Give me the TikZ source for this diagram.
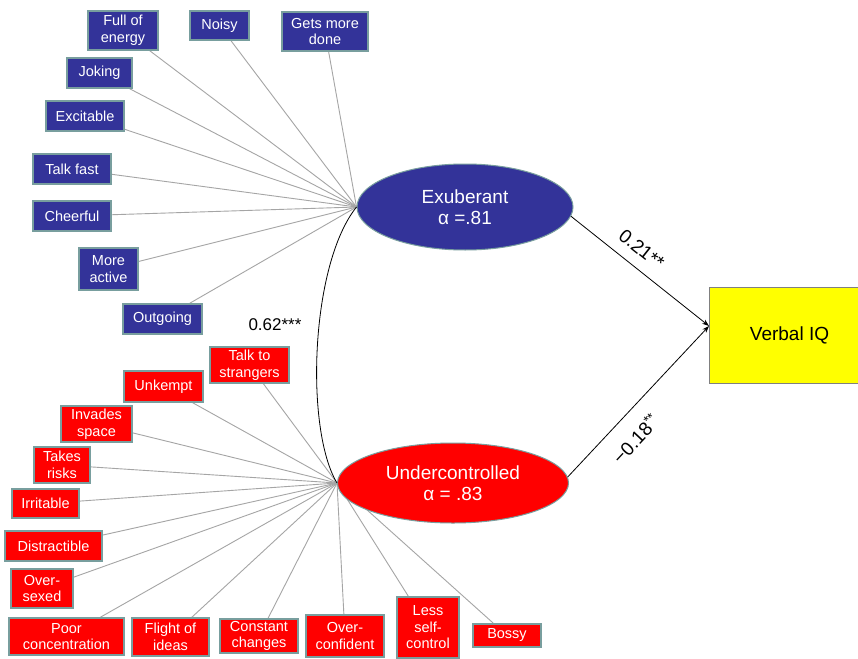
\documentclass[tikz,border=0pt]{standalone}
\usepackage{fontspec}
\setmainfont{Liberation Sans}
\usetikzlibrary{shapes.geometric,arrows.meta,backgrounds}
\definecolor{exblue}{RGB}{51,51,153}
\definecolor{ucred}{RGB}{255,0,0}
\definecolor{boxline}{RGB}{120,158,158}
\definecolor{spoke}{RGB}{165,165,165}
\definecolor{viqyellow}{RGB}{255,255,0}
\begin{document}
\begin{tikzpicture}[x=1pt,y=-1pt,
  trait/.style={draw=boxline, line width=1.4pt, text=white, align=center, inner sep=0pt,
    font=\fontsize{14.5}{16.5}\selectfont},
  bluetrait/.style={trait, fill=exblue},
  redtrait/.style={trait, fill=ucred},
  factor/.style={ellipse, draw=boxline, line width=1pt, text=white, align=center, inner sep=0pt,
    font=\fontsize{19}{21}\selectfont},
  spokeline/.style={draw=spoke, line width=0.9pt},
  pathline/.style={draw=black, line width=0.8pt},
  pathlabel/.style={font=\fontsize{19}{21}\selectfont, inner sep=2pt}
]
\useasboundingbox (0,0) rectangle (858,658);

% factors
\node[factor, fill=exblue, minimum width=216, minimum height=86] (ex) at (465,207) {Exuberant\\α =.81};
\node[factor, fill=ucred, minimum width=231, minimum height=80] (uc) at (453,483) {Undercontrolled\\α = .83};

% outcome
\node[draw=gray, line width=0.8pt, fill=viqyellow, minimum width=161, minimum height=96, inner sep=0pt,
  font=\fontsize{19}{21}\selectfont] (viq) at (789.5,335) {Verbal IQ};
\coordinate (viqin) at (709,326);

% blue traits
\node[bluetrait, minimum width=70, minimum height=39] (fe) at (123,30.5) {Full of\\energy};
\node[bluetrait, minimum width=59, minimum height=29] (noisy) at (219.5,25.5) {Noisy};
\node[bluetrait, minimum width=86, minimum height=39] (gmd) at (325,31.5) {Gets more\\done};
\node[bluetrait, minimum width=65, minimum height=30] (joking) at (99.5,73) {Joking};
\node[bluetrait, minimum width=78, minimum height=30] (excitable) at (85,116) {Excitable};
\node[bluetrait, minimum width=78, minimum height=30] (talkfast) at (72,169) {Talk fast};
\node[bluetrait, minimum width=78, minimum height=30] (cheerful) at (72,216) {Cheerful};
\node[bluetrait, minimum width=59, minimum height=42] (moreactive) at (108.5,269) {More\\active};
\node[bluetrait, minimum width=79, minimum height=30] (outgoing) at (162.5,319) {Outgoing};

% red traits
\node[redtrait, minimum width=79, minimum height=36] (tts) at (249.5,365) {Talk to\\strangers};
\node[redtrait, minimum width=79, minimum height=31] (unkempt) at (163.5,386.5) {Unkempt};
\node[redtrait, minimum width=71, minimum height=36] (invades) at (96.5,424) {Invades\\space};
\node[redtrait, minimum width=56, minimum height=36] (takes) at (62,465) {Takes\\risks};
\node[redtrait, minimum width=67, minimum height=29] (irritable) at (45.5,503.5) {Irritable};
\node[redtrait, minimum width=97, minimum height=30] (distract) at (53.5,546) {Distractible};
\node[redtrait, minimum width=62, minimum height=39] (oversexed) at (42,588.5) {Over-\\sexed};
\node[redtrait, minimum width=115, minimum height=37] (poor) at (66.5,636.5) {Poor\\concentration};
\node[redtrait, minimum width=77, minimum height=38] (flight) at (170.5,637) {Flight of\\ideas};
\node[redtrait, minimum width=78, minimum height=34] (constant) at (259,636) {Constant\\changes};
\node[redtrait, minimum width=78, minimum height=42] (overconf) at (345,636) {Over-\\confident};
\node[redtrait, minimum width=62, minimum height=61] (less) at (428,627.5) {Less\\self-\\control};
\node[redtrait, minimum width=68, minimum height=23] (bossy) at (507,635.5) {Bossy};

% correlation label
\node[font=\fontsize{17}{19}\selectfont, inner sep=0pt] (corr) at (275,325) {0.62***};

\begin{scope}[on background layer]
  \fill[white] (0,0) rectangle (858,658);
  \foreach \n in {fe,noisy,gmd,joking,excitable,talkfast,cheerful,moreactive,outgoing}
    \draw[spokeline] (\n) -- (ex.west);
  \foreach \n in {tts,unkempt,invades,takes,irritable,distract,oversexed,poor,flight,constant,overconf,less,bossy}
    \draw[spokeline] (\n) -- (uc.west);
\end{scope}

% correlation curve
\draw[pathline] (ex.west) .. controls (310,265) and (305,430) .. (uc.west);

% paths to outcome
\draw[pathline, -{Stealth[length=7pt,width=5pt]}] (ex.-5) -- (viqin)
  node[pathlabel, sloped, pos=0.43, above=9pt] (b1) {0.21**};
\draw[pathline, -{Stealth[length=7pt,width=5pt]}] (uc.3) -- (viqin)
  node[pathlabel, sloped, pos=0.36, below=13pt] (b2) {−0.18\textsuperscript{**}};
\end{tikzpicture}
\end{document}
